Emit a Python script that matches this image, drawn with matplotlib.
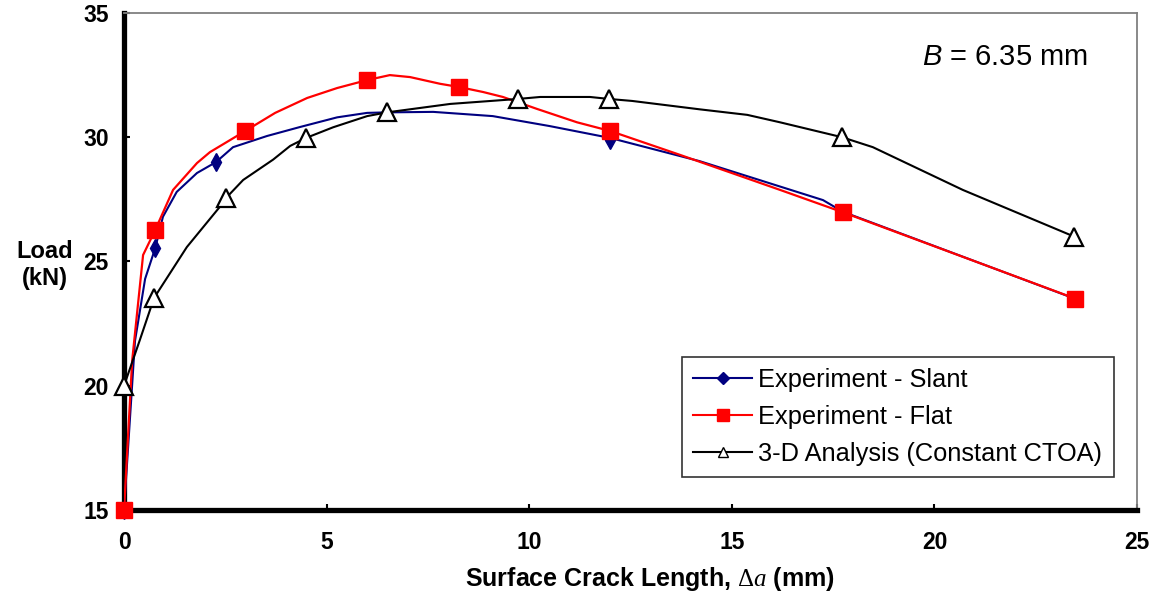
import matplotlib
matplotlib.use("Agg")
import matplotlib.pyplot as plt

plt.rcParams["mathtext.fontset"] = "custom"
plt.rcParams["mathtext.it"] = "Liberation Sans:italic"
plt.rcParams["mathtext.rm"] = "Liberation Sans"
plt.rcParams["mathtext.bf"] = "Liberation Serif"
plt.rcParams["mathtext.sf"] = "Liberation Serif:italic"

# ---- data ----
slant_curve_x = [0, 0.27, 0.52, 0.77, 0.96, 1.3, 1.8, 2.27, 2.69, 3.53, 4.34, 5.26, 6.0, 6.49, 7.63, 9.1, 10.5, 12.0, 14.2, 17.25, 17.74, 23.47]
slant_curve_y = [15, 21.8, 24.3, 25.54, 26.8, 27.8, 28.56, 29.0, 29.6, 30.05, 30.41, 30.8, 30.98, 31.0, 31.02, 30.85, 30.45, 29.97, 29.04, 27.47, 27.0, 23.5]
slant_mark_x = [0, 0.77, 2.27, 12.0]
slant_mark_y = [15, 25.54, 29.0, 29.9]

flat_curve_x = [0, 0.2, 0.47, 0.77, 1.21, 1.8, 2.12, 2.99, 3.73, 4.52, 5.26, 6.0, 6.56, 7.06, 7.8, 8.27, 8.86, 9.35, 10.19, 11.18, 12.0, 13.72, 16.19, 17.74, 23.47]
flat_curve_y = [15, 21.0, 25.26, 26.27, 27.88, 28.96, 29.4, 30.25, 30.98, 31.58, 31.98, 32.3, 32.5, 32.42, 32.15, 32.02, 31.82, 31.62, 31.14, 30.6, 30.25, 29.29, 27.88, 26.98, 23.51]
flat_mark_x = [0, 0.77, 2.99, 6.0, 8.27, 12.0, 17.74, 23.47]
flat_mark_y = [15, 26.27, 30.25, 32.3, 32.02, 30.25, 26.98, 23.51]

cal_curve_x = [0, 0.39, 0.74, 1.55, 2.44, 2.52, 2.94, 3.68, 4.1, 4.49, 5.16, 6.0, 6.49, 8.05, 9.72, 10.27, 11.5, 11.97, 12.54, 14.22, 15.38, 16.19, 17.72, 18.48, 20.7, 23.45]
cal_curve_y = [20.0, 21.84, 23.53, 25.58, 27.35, 27.56, 28.28, 29.1, 29.65, 29.97, 30.4, 30.85, 31.0, 31.34, 31.54, 31.62, 31.62, 31.54, 31.46, 31.12, 30.9, 30.6, 30.0, 29.6, 27.88, 26.0]
cal_mark_x = [0, 0.74, 2.52, 4.49, 6.49, 9.72, 11.97, 17.72, 23.45]
cal_mark_y = [20.0, 23.53, 27.56, 29.97, 31.0, 31.54, 31.54, 30.0, 26.0]

labels = ["Experiment - Slant", "Experiment - Flat", "3-D Analysis (Constant CTOA)"]
x_ticks = [0, 5, 10, 15, 20, 25]
y_ticks = [15, 20, 25, 30, 35]

# ---- figure ----
fig = plt.figure(figsize=(11.56, 5.98), dpi=100)
ax = fig.add_axes([0.1073, 0.1472, 0.8763, 0.8311])

ax.plot(slant_curve_x, slant_curve_y, color="#000080", lw=1.5, zorder=3)
ax.plot(slant_mark_x, slant_mark_y, ls="none", marker="d", ms=9, color="#000080", zorder=3,
        clip_on=False)
ax.plot(flat_curve_x, flat_curve_y, color="#ff0000", lw=1.6, zorder=4)
ax.plot(flat_mark_x, flat_mark_y, ls="none", marker="s", ms=11, color="#ff0000", zorder=4,
        clip_on=False)
ax.plot(cal_curve_x, cal_curve_y, color="black", lw=1.5, zorder=5)
ax.plot(cal_mark_x, cal_mark_y, ls="none", marker="^", ms=13, mfc="white", mec="black", mew=1.6,
        zorder=5, clip_on=False)

# legend proxies
h1, = ax.plot([], [], color="#000080", lw=1.5, marker="D", ms=6)
h2, = ax.plot([], [], color="#ff0000", lw=1.5, marker="s", ms=9)
h3, = ax.plot([], [], color="black", lw=1.5, marker="^", ms=7, mfc="white", mec="black")
leg = ax.legend([h1, h2, h3], labels, loc="lower right", bbox_to_anchor=(0.977, 0.066),
                prop={"family": "Liberation Sans", "size": 18.3}, frameon=True, fancybox=False,
                edgecolor="black", handlelength=2.3, handletextpad=0.25, labelspacing=0.5,
                borderpad=0.45, borderaxespad=0)
leg.get_frame().set_linewidth(1.2)
leg.set_zorder(6)

ax.set_xlim(0, 25)
ax.set_ylim(15, 35)
ax.set_xticks(x_ticks)
ax.set_yticks(y_ticks)
ax.tick_params(direction="in", length=4, width=1.5)
ax.tick_params(axis="x", pad=15)
ax.tick_params(axis="y", pad=11)
for lab in ax.get_xticklabels() + ax.get_yticklabels():
    lab.set_fontfamily("Liberation Sans")
    lab.set_fontweight("bold")
    lab.set_fontsize(16.5)

for s in ["left", "bottom"]:
    ax.spines[s].set_linewidth(3.8)
    ax.spines[s].set_color("black")
for s in ["top", "right"]:
    ax.spines[s].set_linewidth(1.3)
    ax.spines[s].set_color("#808080")

ax.set_xlabel(r"Surface Crack Length, $\mathbf{\Delta}\mathsf{a}$ (mm)", fontfamily="Liberation Sans",
              fontweight="bold", fontsize=18, labelpad=8)
ax.xaxis.label.set_x(0.519)
fig.text(0.039, 0.557, "Load\n(kN)", ha="center", va="center", fontfamily="Liberation Sans",
         fontweight="bold", fontsize=17, linespacing=1.25)

ax.text(0.87, 0.911, r"$\mathit{B}$ = 6.35 mm", transform=ax.transAxes, ha="center",
        va="center", fontfamily="Liberation Sans", fontsize=21)

fig.savefig("out.png", dpi=100)
